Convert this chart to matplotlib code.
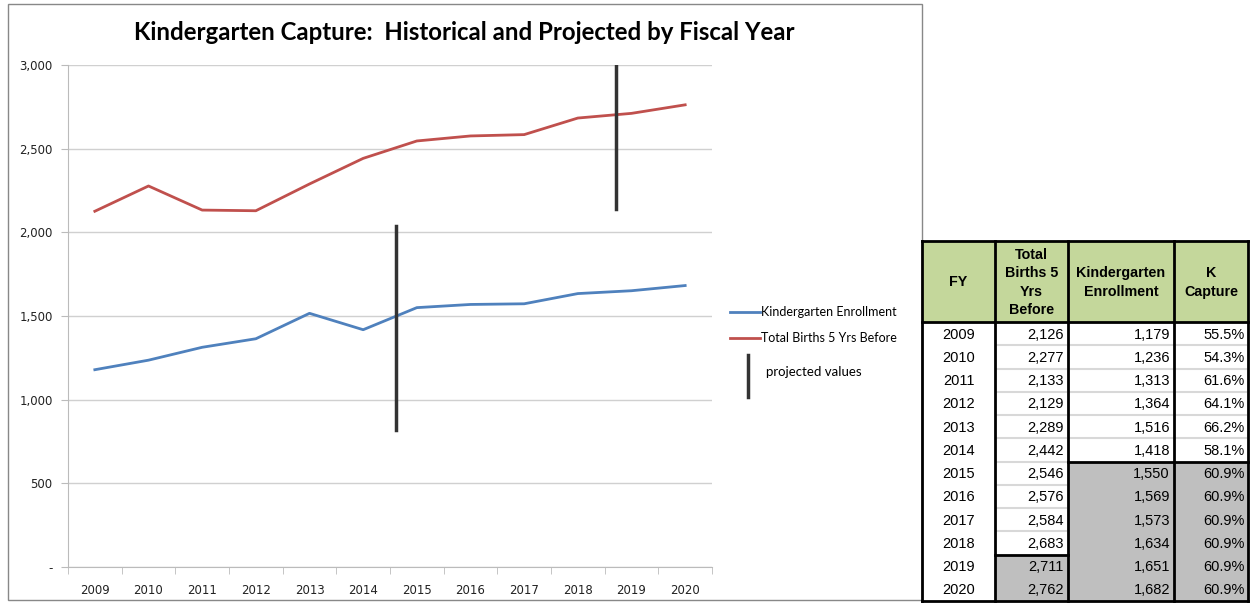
import matplotlib.pyplot as plt
from matplotlib.patches import Rectangle
from matplotlib.lines import Line2D
import numpy as np

years = [2009, 2010, 2011, 2012, 2013, 2014, 2015, 2016, 2017, 2018, 2019, 2020]
births = [2126, 2277, 2133, 2129, 2289, 2442, 2546, 2576, 2584, 2683, 2711, 2762]
enrollment = [1179, 1236, 1313, 1364, 1516, 1418, 1550, 1569, 1573, 1634, 1651, 1682]
capture = [55.5, 54.3, 61.6, 64.1, 66.2, 58.1, 60.9, 60.9, 60.9, 60.9, 60.9, 60.9]

# projected marker lines (x in category index, y range)
proj_enroll_x = 5.61
proj_enroll_y = [820, 2040]
proj_births_x = 9.72
proj_births_y = [2140, 3000]

W, H = 1250, 603
fig = plt.figure(figsize=(W / 100, H / 100), dpi=100)
fig.patch.set_facecolor('white')

def fx(px):
    return px / W

def fy(py):
    return 1 - py / H

# chart frame
fig.patches.append(Rectangle((fx(8), fy(600)), fx(922) - fx(8), fy(4) - fy(600),
                             transform=fig.transFigure, fill=False,
                             edgecolor='#888888', linewidth=1))

ax = fig.add_axes([fx(68), fy(567), fx(712) - fx(68), fy(65) - fy(567)])
x = np.arange(len(years))
ax.plot(x, enrollment, color='#4F81BD', linewidth=2)
ax.plot(x, births, color='#C0504D', linewidth=2)
ax.plot([proj_enroll_x, proj_enroll_x], proj_enroll_y, color='#333333', linewidth=2.5)
ax.plot([proj_births_x, proj_births_x], proj_births_y, color='#333333', linewidth=2.5)

ax.set_xlim(-0.5, len(years) - 0.5)
ax.set_ylim(0, 3000)
ax.set_yticks(np.arange(0, 3001, 500))
ax.set_yticklabels(['-'] + [f'{v:,}' for v in range(500, 3001, 500)])
ax.set_xticks(x)
ax.set_xticklabels([str(y) for y in years])
ax.set_xticks(np.arange(-0.5, len(years), 1), minor=True)
ax.tick_params(axis='x', which='major', length=0, pad=12, labelsize=8.5, labelcolor='#222222')
ax.tick_params(axis='x', which='minor', length=5, color='#BBBBBB', direction='out')
ax.tick_params(axis='y', length=5, color='#BBBBBB', labelsize=8.5, labelcolor='#222222', pad=6)
ax.grid(axis='y', color='#D0D0D0', linewidth=1)
ax.set_axisbelow(True)
for s in ['top', 'right']:
    ax.spines[s].set_visible(False)
ax.spines['left'].set_color('#BBBBBB')
ax.spines['bottom'].set_color('#BBBBBB')

fig.text(fx(464), fy(33), 'Kindergarten Capture:  Historical and Projected by Fiscal Year',
         ha='center', va='center', fontsize=17.3, fontweight='bold', family='Lato')

# legend drawn by hand
fig.add_artist(Line2D([fx(730), fx(760)], [fy(312), fy(312)], color='#4F81BD', linewidth=2))
fig.text(fx(761), fy(312), 'Kindergarten Enrollment', va='center', fontsize=9, family='Lato')
fig.add_artist(Line2D([fx(730), fx(760)], [fy(338), fy(338)], color='#C0504D', linewidth=2))
fig.text(fx(761), fy(338), 'Total Births 5 Yrs Before', va='center', fontsize=9, family='Lato')
fig.add_artist(Line2D([fx(748), fx(748)], [fy(355), fy(397)], color='#333333', linewidth=2.5))
fig.text(fx(766), fy(372), 'projected values', va='center', fontsize=9.5, family='Lato')

# table
col_edges = [922, 995, 1068, 1174, 1248]
head_top, head_bot = 241, 322
row_h = (601 - head_bot) / len(years)
green = '#C4D79B'
gray = '#BFBFBF'
headers = ['FY', 'Total\nBirths 5\nYrs\nBefore', 'Kindergarten\nEnrollment', 'K\nCapture']

def rect(x0, y0, x1, y1, **kw):
    fig.patches.append(Rectangle((fx(x0), fy(y1)), fx(x1) - fx(x0), fy(y0) - fy(y1),
                                 transform=fig.transFigure, **kw))

def hline(x0, x1, y, **kw):
    fig.add_artist(Line2D([fx(x0), fx(x1)], [fy(y), fy(y)], **kw))

def vline(x0, y0, y1, **kw):
    fig.add_artist(Line2D([fx(x0), fx(x0)], [fy(y0), fy(y1)], **kw))

rect(col_edges[0], head_top, col_edges[-1], head_bot, facecolor=green, edgecolor='none')
for i, h in enumerate(headers):
    fig.text(fx((col_edges[i] + col_edges[i + 1]) / 2), fy((head_top + head_bot) / 2 + 1), h,
             ha='center', va='center', fontsize=10.3, fontweight='bold', linespacing=1.42,
             family='Liberation Sans')

for r, yr in enumerate(years):
    y0 = head_bot + r * row_h
    y1 = y0 + row_h
    yc = (y0 + y1) / 2 + 1
    if r >= 6:
        rect(col_edges[2], y0, col_edges[4], y1, facecolor=gray, edgecolor='none')
    if r >= 10:
        rect(col_edges[1], y0, col_edges[2], y1, facecolor=gray, edgecolor='none')
    if r > 0:
        if r < 10:
            hline(col_edges[1] + 2, col_edges[2] - 2, y0, color='#D8D8D8', linewidth=1.5)
        if r < 6:
            hline(col_edges[2] + 2, col_edges[4] - 2, y0, color='#D8D8D8', linewidth=1.5)
    fig.text(fx((col_edges[0] + col_edges[1]) / 2), fy(yc), str(yr),
             ha='center', va='center', fontsize=10.5, family='Liberation Sans')
    fig.text(fx(col_edges[2] - 4), fy(yc), f'{births[r]:,}',
             ha='right', va='center', fontsize=10.5, family='Liberation Sans')
    fig.text(fx(col_edges[3] - 4), fy(yc), f'{enrollment[r]:,}',
             ha='right', va='center', fontsize=10.5, family='Liberation Sans')
    fig.text(fx(col_edges[4] - 3), fy(yc), f'{capture[r]:.1f}%',
             ha='right', va='center', fontsize=10.5, family='Liberation Sans')

# thick borders
for cx in col_edges:
    vline(cx, head_top, 601, color='black', linewidth=2)
hline(col_edges[0], col_edges[-1], head_top, color='black', linewidth=2)
hline(col_edges[0], col_edges[-1], head_bot, color='black', linewidth=2)
hline(col_edges[0], col_edges[-1], 601, color='black', linewidth=2)
hline(col_edges[2], col_edges[4], head_bot + 6 * row_h, color='black', linewidth=2)
hline(col_edges[1], col_edges[2], head_bot + 10 * row_h, color='black', linewidth=2)

fig.savefig('out.png', dpi=100)
